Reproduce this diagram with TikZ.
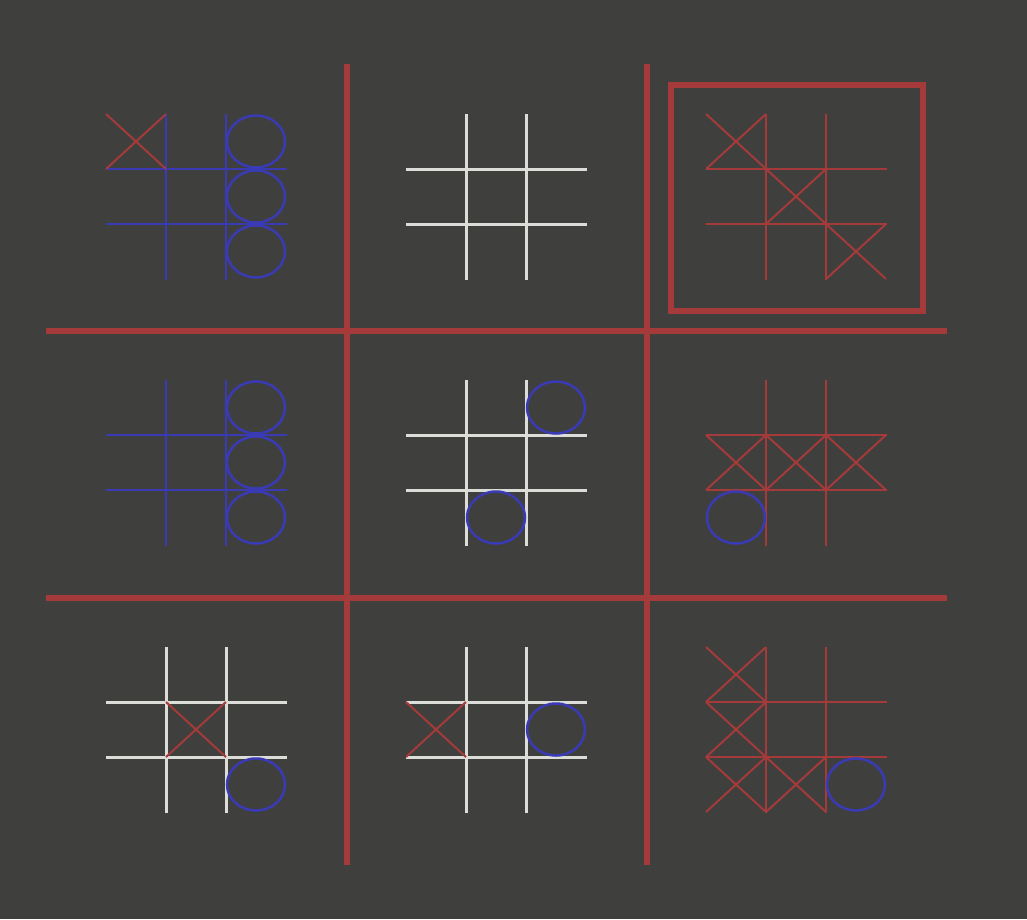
\documentclass[tikz,border=0pt]{standalone}
\definecolor{slate}{HTML}{3F403E}
\definecolor{xred}{HTML}{A53A3A}
\definecolor{oblue}{HTML}{3A3AB4}
\definecolor{chalk}{HTML}{DCDCD8}

\tikzset{
  bigline/.style={xred, line width=6pt},
  gridline/.style={line width=2pt},
  xline/.style={xred, line width=2pt},
  oline/.style={oblue, line width=2.5pt},
}

% one small board, marks in (row, column)
\newcommand{\smallgrid}[2][gridline]{%
  \draw[#1, #2] (60,0) -- (60,166) (120,0) -- (120,166)
                (0,55) -- (181,55) (0,110) -- (181,110);}
\newcommand{\putx}[2]{%
  \draw[xline] (60*#2,55*#1) -- ++(60,55) (60*#2,55*#1+55) -- ++(60,-55);}
\newcommand{\puto}[2]{%
  \draw[oline] (60*#2+30,55*#1+27.5) ellipse [x radius=29pt, y radius=26pt];}

\begin{document}
\begin{tikzpicture}[x=1pt, y=-1pt]
    % Background
    \fill[slate] (0,0) rectangle (1027,919);
    \useasboundingbox (0,0) rectangle (1027,919);

    % Big board
    \draw[bigline] (347,64) -- (347,865);
    \draw[bigline] (647,64) -- (647,865);
    \draw[bigline] (46,331) -- (947,331);
    \draw[bigline] (46,598) -- (947,598);

    % Top row
    \begin{scope}[shift={(106,114)}]
        \smallgrid{oblue}
        \putx{0}{0}
        \puto{0}{2} \puto{1}{2} \puto{2}{2}
    \end{scope}
    \begin{scope}[shift={(406,114)}]
        \smallgrid[line width=3pt]{chalk}
    \end{scope}
    \begin{scope}[shift={(706,114)}]
        \smallgrid{xred}
        \putx{0}{0} \putx{1}{1} \putx{2}{2}
    \end{scope}

    % Middle row
    \begin{scope}[shift={(106,380)}]
        \smallgrid{oblue}
        \puto{0}{2} \puto{1}{2} \puto{2}{2}
    \end{scope}
    \begin{scope}[shift={(406,380)}]
        \smallgrid[line width=3pt]{chalk}
        \puto{0}{2} \puto{2}{1}
    \end{scope}
    \begin{scope}[shift={(706,380)}]
        \smallgrid{xred}
        \putx{1}{0} \putx{1}{1} \putx{1}{2}
        \puto{2}{0}
    \end{scope}

    % Bottom row
    \begin{scope}[shift={(106,647)}]
        \smallgrid[line width=3pt]{chalk}
        \putx{1}{1}
        \puto{2}{2}
    \end{scope}
    \begin{scope}[shift={(406,647)}]
        \smallgrid[line width=3pt]{chalk}
        \putx{1}{0}
        \puto{1}{2}
    \end{scope}
    \begin{scope}[shift={(706,647)}]
        \smallgrid{xred}
        \putx{0}{0} \putx{1}{0} \putx{2}{0} \putx{2}{1}
        \puto{2}{2}
    \end{scope}

    % Won board frame
    \draw[bigline] (671,85) rectangle (923,311);
\end{tikzpicture}
\end{document}
